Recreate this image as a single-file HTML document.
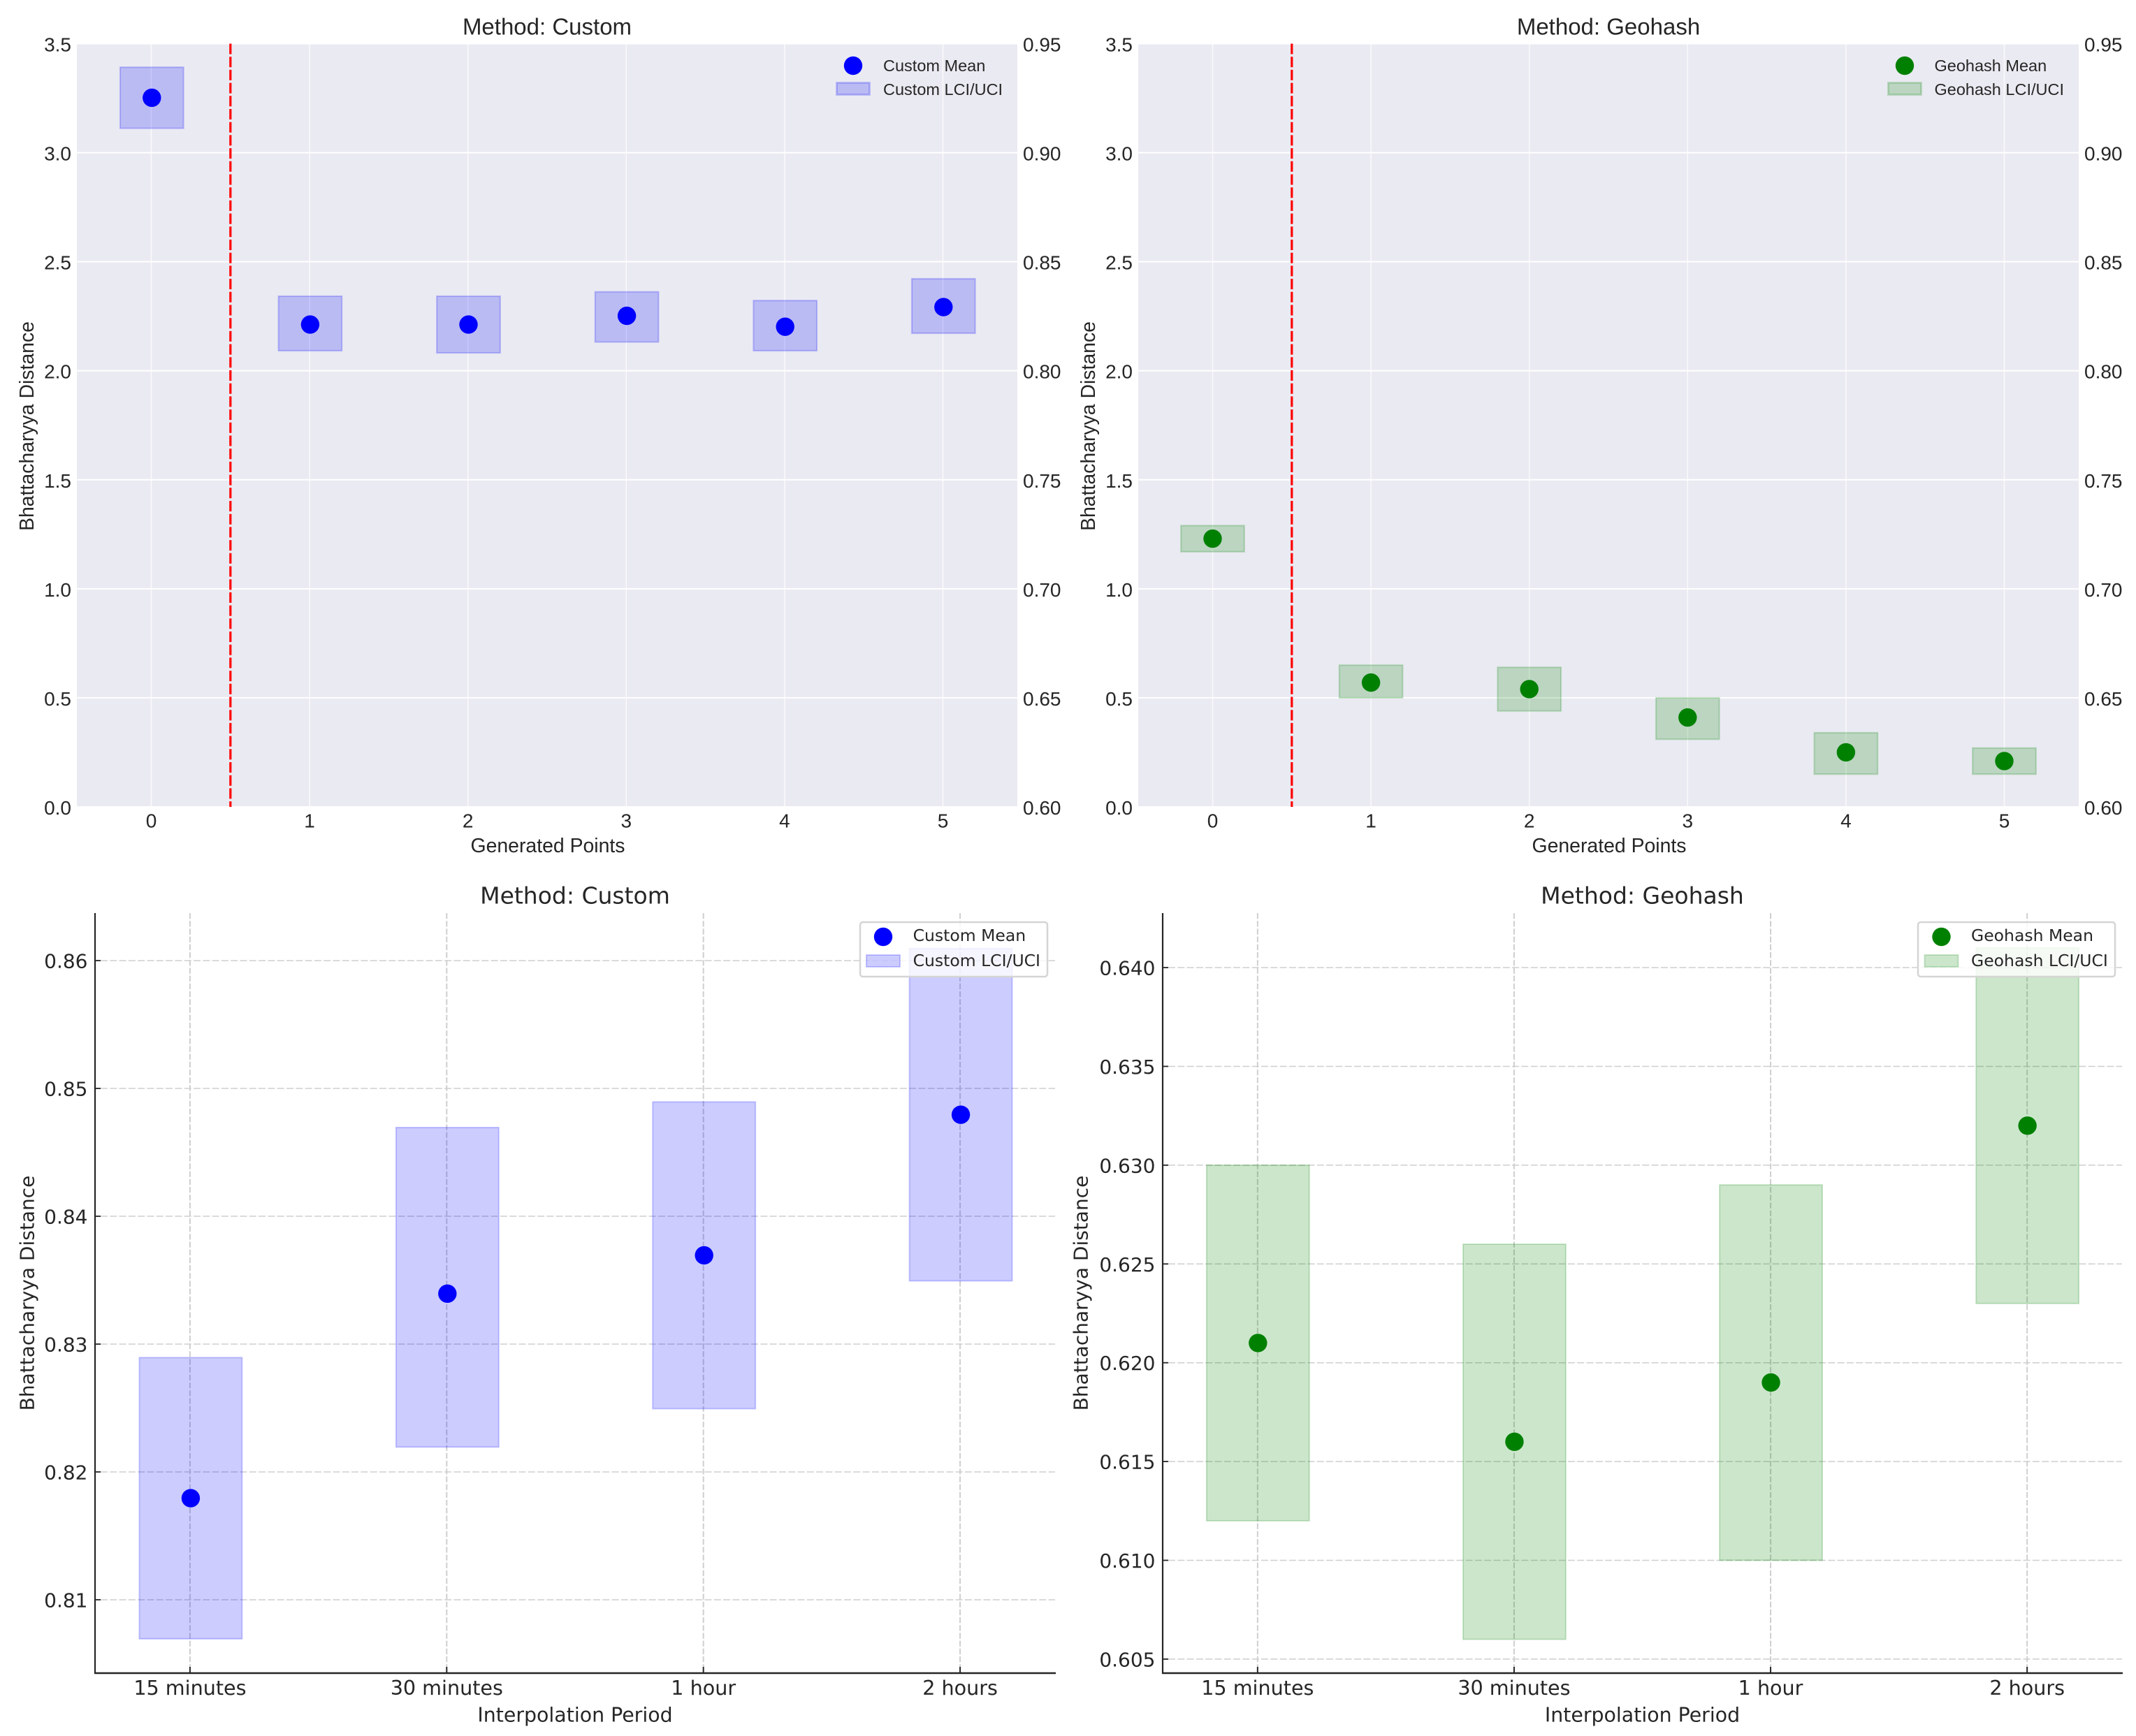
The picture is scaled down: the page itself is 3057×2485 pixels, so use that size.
<!DOCTYPE html>
<html lang="en">
<head>
<meta charset="utf-8">
<title>Bhattacharyya Distance by Method</title>
<style>
html,body{margin:0;padding:0;background:#fff;width:3057px;height:2485px;overflow:hidden}
svg{display:block}
text{fill:#262626}
</style>
</head>
<body>
<svg id="figure" xmlns="http://www.w3.org/2000/svg" width="3057" height="2485" viewBox="0 0 3057 2485"></svg>
<script>
// ---- data ----
const generatedPoints = [0, 1, 2, 3, 4, 5];
const customGenMean = [3.25, 2.21, 2.21, 2.25, 2.20, 2.29];
const customGenLci = [3.11, 2.09, 2.08, 2.13, 2.09, 2.17];
const customGenUci = [3.39, 2.34, 2.34, 2.36, 2.32, 2.42];
const geohashGenMean = [1.23, 0.57, 0.54, 0.41, 0.25, 0.21];
const geohashGenLci = [1.17, 0.50, 0.44, 0.31, 0.15, 0.15];
const geohashGenUci = [1.29, 0.65, 0.64, 0.50, 0.34, 0.27];
const topLeftTicks = [0, 0.5, 1, 1.5, 2, 2.5, 3, 3.5];
const topRightTicks = [0.60, 0.65, 0.70, 0.75, 0.80, 0.85, 0.90, 0.95];
const splitPosition = [0.5];

const periods = ['15 minutes', '30 minutes', '1 hour', '2 hours'];
const customPeriodMean = [0.818, 0.834, 0.837, 0.848];
const customPeriodLci = [0.807, 0.822, 0.825, 0.835];
const customPeriodUci = [0.829, 0.847, 0.849, 0.861];
const geohashPeriodMean = [0.621, 0.616, 0.619, 0.632];
const geohashPeriodLci = [0.612, 0.606, 0.610, 0.623];
const geohashPeriodUci = [0.630, 0.626, 0.629, 0.641];
const customPeriodTicks = [0.81, 0.82, 0.83, 0.84, 0.85, 0.86];
const geohashPeriodTicks = [0.605, 0.610, 0.615, 0.620, 0.625, 0.630, 0.635, 0.640];

const SANS = '"Liberation Sans", Arial, sans-serif';
const DEJA = '"DejaVu Sans", sans-serif';
const NS = 'http://www.w3.org/2000/svg';
const fig = document.getElementById('figure');

function mk(tag, attrs, parent) {
  const n = document.createElementNS(NS, tag);
  for (const k in attrs) n.setAttribute(k, attrs[k]);
  parent.appendChild(n);
  return n;
}
function label(parent, str, x, y, size, family, anchor, rotate) {
  const a = {x: x, y: y, 'font-size': size, 'font-family': family, 'text-anchor': anchor, 'dominant-baseline': 'central'};
  if (rotate) a.transform = 'rotate(-90 ' + x + ' ' + y + ')';
  const t = mk('text', a, parent);
  t.textContent = str;
  return t;
}
function linear(d0, d1, r0, r1) {
  return v => r0 + (v - d0) / (d1 - d0) * (r1 - r0);
}

function drawBars(g, xs, lci, uci, sx, sy, color, strokeW, shift) {
  xs.forEach((c, i) => {
    const x0 = sx(c - 0.2) + shift.dx, x1 = sx(c + 0.2) + shift.dx, yt = sy(uci[i]) + shift.dy, yb = sy(lci[i]) + shift.dy;
    const r = mk('rect', {x: x0, y: yt, width: x1 - x0, height: yb - yt, fill: color, 'fill-opacity': 0.2, stroke: color, 'stroke-opacity': 0.2, 'stroke-width': strokeW}, g);
    
    
  });
}
function drawMeans(g, xs, mean, sx, sy, color, shift) {
  xs.forEach((c, i) => {
    const p = mk('circle', {cx: sx(c) + shift.dx, cy: sy(mean[i]) + shift.dy, r: 13.2, fill: color}, g);
    
    
  });
}

// ---- top row panels (seaborn-like) ----
function topPanel(name, box, method, color, mean, lci, uci, lg, shift) {
  const g = mk('g', {}, fig);
  
  
  const sx = linear(-0.47, 5.47, box.l, box.r);
  const sy = linear(0, 3.5, box.b, box.t);
  const syR = linear(0.60, 0.95, box.b, box.t);

  const bg = mk('rect', {x: box.l, y: box.t, width: box.r - box.l, height: box.b - box.t, fill: '#eaeaf2'}, g);
  
  

  generatedPoints.forEach(v => {
    const gl = mk('line', {x1: sx(v), x2: sx(v), y1: box.t, y2: box.b, stroke: '#fff', 'stroke-opacity': 0.75, 'stroke-width': 1.5}, g);
    
    
    const tl = label(g, String(v), sx(v), 1175, 28, SANS, 'middle');
    
    
  });
  topLeftTicks.forEach(v => {
    const gl = mk('line', {x1: box.l, x2: box.r, y1: sy(v), y2: sy(v), stroke: '#fff', 'stroke-width': 2}, g);
    
    
    const tl = label(g, v.toFixed(1), box.l - 8, sy(v) + 1.5, 28, SANS, 'end');
    
    
  });
  topRightTicks.forEach(v => {
    const tl = label(g, v.toFixed(2), box.r + 8, syR(v) + 1.5, 28, SANS, 'start');
    
    
  });

  drawBars(g, generatedPoints, lci, uci, sx, sy, color, 2.2, shift);

  const vl = mk('line', {x1: sx(splitPosition[0]), x2: sx(splitPosition[0]), y1: box.t, y2: box.b, stroke: '#ff0000', 'stroke-width': 3.2, 'stroke-dasharray': '15 3.7'}, g);
  
  

  drawMeans(g, generatedPoints, mean, sx, sy, color, shift);

  const title = label(g, 'Method: ' + method, (box.l + box.r) / 2, 38, 33, SANS, 'middle');
  
  
  const xt = label(g, 'Generated Points', (box.l + box.r) / 2 + 1, 1211, 28.4, SANS, 'middle');
  
  
  const yt = label(g, 'Bhattacharyya Distance', box.l - 71, 610, 28.4, SANS, 'middle', true);
  
  

  const lgM = mk('circle', {cx: lg.mx, cy: 94, r: 13.2, fill: color}, g);
  
  
  const lgP = mk('rect', {x: lg.mx - 23.5, y: 118.5, width: 47, height: 17, fill: color, 'fill-opacity': 0.2, stroke: color, 'stroke-opacity': 0.2, 'stroke-width': 3}, g);
  
  
  const lt1 = label(g, method + ' Mean', lg.tx, 94, 23.5, SANS, 'start');
  
  
  const lt2 = label(g, method + ' LCI/UCI', lg.tx, 128, 23.5, SANS, 'start');
  
  
}

// ---- bottom row panels ----
function bottomPanel(name, box, yLim, method, color, mean, lci, uci, yTicks, decimals, lg, shift) {
  const g = mk('g', {}, fig);
  
  
  const sx = linear(-0.37, 3.37, box.l, box.r);
  const sy = linear(yLim[0], yLim[1], box.b, box.t);
  const positions = periods.map((_, i) => i);

  positions.forEach(i => {
    const gl = mk('line', {x1: sx(i), x2: sx(i), y1: box.t, y2: box.b - 9, stroke: '#cfcfcf', 'stroke-width': 2, 'stroke-dasharray': '8.3 2.9'}, g);
    
    
    const tk = mk('line', {x1: sx(i), x2: sx(i), y1: box.b - 9, y2: box.b, stroke: '#262626', 'stroke-width': 2}, g);
    
    
    const tl = label(g, periods[i], sx(i), 2416, 28.6, DEJA, 'middle');
    
    
  });
  yTicks.forEach(v => {
    const gl = mk('line', {x1: box.l + 8, x2: box.r, y1: sy(v), y2: sy(v), stroke: '#cfcfcf', 'stroke-width': 1.5, 'stroke-dasharray': '10 3.3'}, g);
    
    
    const tk = mk('line', {x1: box.l, x2: box.l + 8, y1: sy(v), y2: sy(v), stroke: '#262626', 'stroke-width': 1.8}, g);
    
    
    const tl = label(g, v.toFixed(decimals), box.l - 10.5, sy(v) + 1, 28, DEJA, 'end');
    
    
  });

  drawBars(g, positions, lci, uci, sx, sy, color, 2, shift);
  drawMeans(g, positions, mean, sx, sy, color, shift);

  const sl = mk('line', {x1: box.l, x2: box.l, y1: box.t, y2: box.b + 1, stroke: '#262626', 'stroke-width': 2.2}, g);
  
  
  const sb = mk('line', {x1: box.l - 1, x2: box.r + 1, y1: box.b, y2: box.b, stroke: '#262626', 'stroke-width': 2.6}, g);
  
  

  const title = label(g, 'Method: ' + method, (box.l + box.r) / 2, 1282, 33, DEJA, 'middle');
  
  
  const xt = label(g, 'Interpolation Period', (box.l + box.r) / 2, 2455, 28.4, DEJA, 'middle');
  
  
  const yt = label(g, 'Bhattacharyya Distance', box.yTitle, 1851, 28, DEJA, 'middle', true);
  
  

  const fr = mk('rect', {x: lg.x0, y: 1320, width: lg.x1 - lg.x0, height: 78, rx: 4, fill: '#fff', 'fill-opacity': 0.8, stroke: '#d5d5d5', 'stroke-width': 2.5}, g);
  
  
  const lgM = mk('circle', {cx: lg.mx, cy: 1341, r: 13.2, fill: color}, g);
  
  
  const lgP = mk('rect', {x: lg.mx - 24, y: 1367, width: 48, height: 17, fill: color, 'fill-opacity': 0.2, stroke: color, 'stroke-opacity': 0.2, 'stroke-width': 2}, g);
  
  
  const lt1 = label(g, method + ' Mean', lg.tx, 1339, 23.5, DEJA, 'start');
  
  
  const lt2 = label(g, method + ' LCI/UCI', lg.tx, 1375, 23.5, DEJA, 'start');
  
  
}

topPanel('generated-points-custom-panel', {l: 110, r: 1456, t: 62.5, b: 1155}, 'Custom', '#0000ff', customGenMean, customGenLci, customGenUci, {mx: 1221, tx: 1264}, {dx: 0.8, dy: -0.6});
topPanel('generated-points-geohash-panel', {l: 1629, r: 2975, t: 62.5, b: 1155}, 'Geohash', '#008000', geohashGenMean, geohashGenLci, geohashGenUci, {mx: 2726, tx: 2768.5}, {dx: 0, dy: 0});
bottomPanel('interpolation-custom-panel', {l: 136, r: 1510, t: 1307, b: 2395, yTitle: 39}, [0.80426, 0.86372], 'Custom', '#0000ff', customPeriodMean, customPeriodLci, customPeriodUci, customPeriodTicks, 2, {x0: 1231, x1: 1499, mx: 1264, tx: 1306.6}, {dx: 1, dy: 1});
bottomPanel('interpolation-geohash-panel', {l: 1664, r: 3037, t: 1307, b: 2395, yTitle: 1547}, [0.60429, 0.64276], 'Geohash', '#008000', geohashPeriodMean, geohashPeriodLci, geohashPeriodUci, geohashPeriodTicks, 3, {x0: 2745, x1: 3027, mx: 2778.5, tx: 2821}, {dx: 0.5, dy: 0});
</script>
</body>
</html>
